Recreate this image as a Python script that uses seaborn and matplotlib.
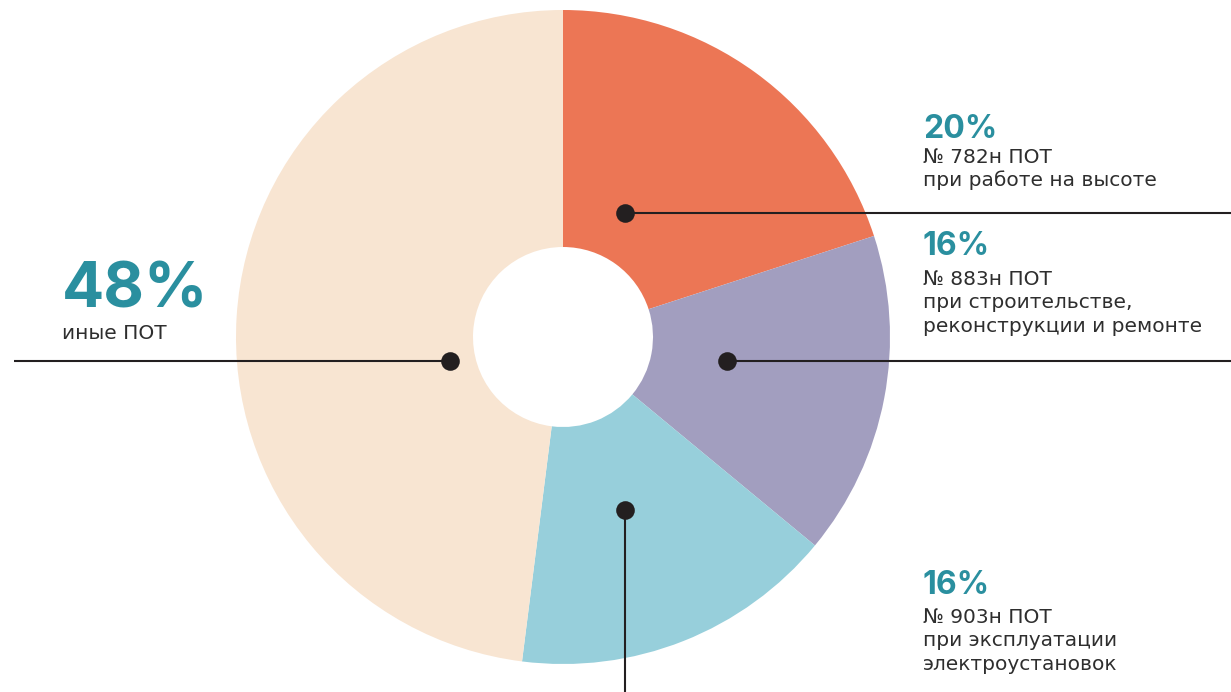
import matplotlib
matplotlib.use("Agg")
import matplotlib.pyplot as plt
import seaborn as sns

# data
labels = ["№ 782н ПОТ\nпри работе на высоте",
          "№ 883н ПОТ\nпри строительстве,\nреконструкции и ремонте",
          "№ 903н ПОТ\nпри эксплуатации\nэлектроустановок",
          "иные ПОТ"]
shares = [20, 16, 16, 48]
colors = ["#EC7655", "#A29EBF", "#97CFDB", "#F8E5D2"]

sns.set_theme(style="white")
plt.rcParams["font.family"] = ["Inter", "DejaVu Sans"]

W, H = 1231, 692
fig = plt.figure(figsize=(W / 100, H / 100), dpi=100)
ax = fig.add_axes([0, 0, 1, 1])

cx, cy, R, r_in = 563, H - 337, 327, 90
ax.pie(shares, colors=colors, startangle=90, counterclock=False,
       center=(cx, cy), radius=R,
       wedgeprops=dict(width=R - r_in, linewidth=0))
ax.set_xlim(0, W)
ax.set_ylim(0, H)
ax.set_aspect("equal")
ax.axis("off")

teal = "#2A8F9F"
dark = "#2E2E2E"
dotc = "#231F20"
body_font = ["DejaVu Sans"]

def Y(y):
    return H - y

# callouts: dot position and line end (pixel layout)
callouts = [((625, 213), (W, 213)),
            ((727, 361), (W, 361)),
            ((625, 510), (625, H)),
            ((450, 361), (14, 361))]
for (p, q) in callouts:
    ax.plot([p[0], q[0]], [Y(p[1]), Y(q[1])], color=dotc, lw=1.5,
            solid_capstyle="butt", zorder=3)
    ax.scatter([p[0]], [Y(p[1])], s=180, color=dotc, zorder=4, linewidths=0)

# label blocks: (x, pct baseline, first text baseline)
blocks = [(923, 138, 163), (923, 255, 285), (923, 594, 623)]
for (x, yp, yt), lab, v in zip(blocks, labels[:3], shares[:3]):
    ax.text(x, Y(yp), f"{v}%", color=teal, fontsize=23, fontweight="bold",
            va="baseline", ha="left")
    for i, line in enumerate(lab.split("\n")):
        ax.text(x, Y(yt + 23.5 * i), line, color=dark, fontsize=14.5,
                family=body_font, va="baseline", ha="left")

ax.text(62, Y(307), f"{shares[3]}%", color=teal, fontsize=45,
        fontweight="bold", va="baseline", ha="left")
ax.text(62, Y(339), labels[3], color=dark, fontsize=14.5, family=body_font,
        va="baseline", ha="left")

fig.savefig("out.png", dpi=100)
